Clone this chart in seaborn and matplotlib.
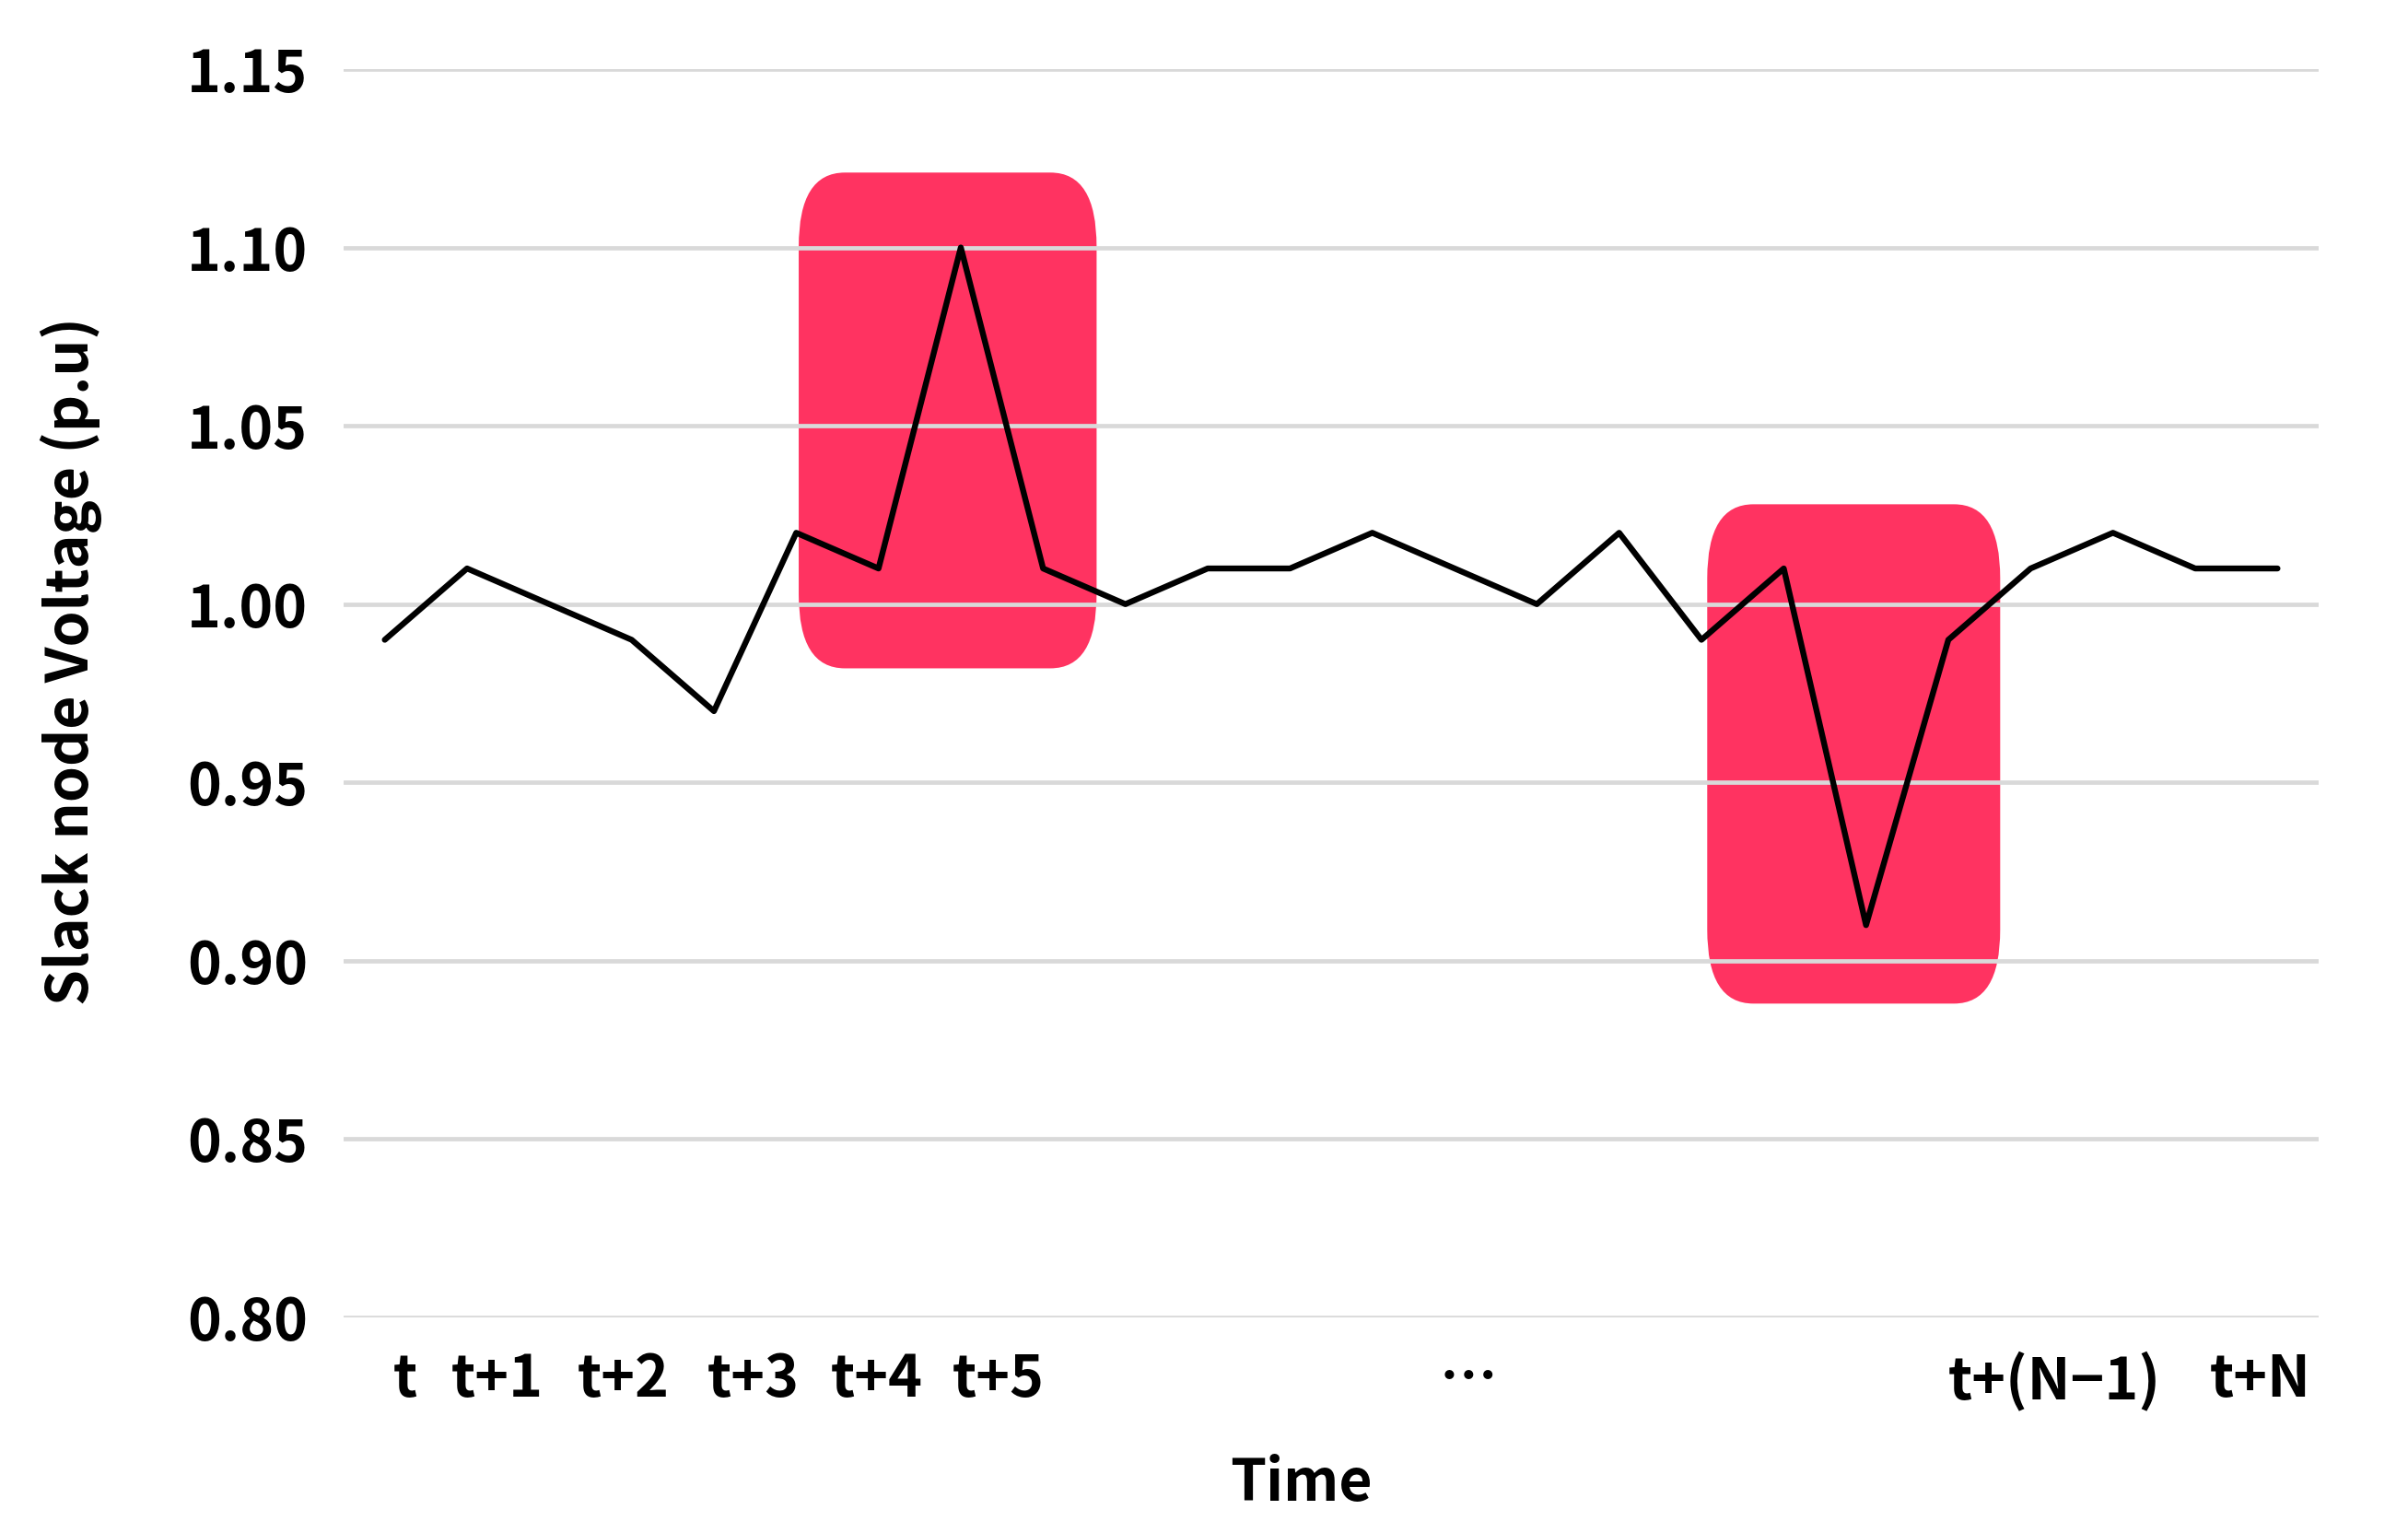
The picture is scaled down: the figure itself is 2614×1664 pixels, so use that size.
#!/usr/bin/env python3
# coding: utf-8
"""
Slack node voltage over time, with the two excursions highlighted
"""

import numpy as np
import pandas as pd
import seaborn as sns
import matplotlib
matplotlib.use("Agg")
import matplotlib.pyplot as plt
from matplotlib.patches import FancyBboxPatch

# ------------------------- 0. data --------------------------
STEP = list(range(24))
VOLTAGE = [0.99, 1.01, 1.00, 0.99, 0.97, 1.02, 1.01, 1.10, 1.01, 1.00, 1.01, 1.01,
           1.02, 1.01, 1.00, 1.02, 0.99, 1.01, 0.91, 0.99, 1.01, 1.02, 1.01, 1.01]

TICK_LABELS = ["t", "t+1", "t+2", "t+3", "t+4", "t+5", "\u2026", "t+(N\u22121)", "t+N"]
TICK_POS = [0.25, 1.37, 2.9, 4.48, 5.98, 7.46, 13.17, 20.29, 22.79]

Y_TICKS = [0.80, 0.85, 0.90, 0.95, 1.00, 1.05, 1.10, 1.15]

# highlighted regions: (x0, x1, y0, y1)
HIGHLIGHTS = [(5.03, 8.65, 0.982, 1.121), (16.07, 19.63, 0.888, 1.028)]
HL_COLOR = "#FF3361"

# ------------------------- 1. style -------------------------
sns.set_theme(style="white")
plt.rcParams["font.family"] = ["Noto Sans CJK KR", "DejaVu Sans"]
plt.rcParams["font.weight"] = "bold"
plt.rcParams["axes.unicode_minus"] = False

df = pd.DataFrame({"step": STEP, "voltage": VOLTAGE})

fig = plt.figure(figsize=(26.14, 16.64), dpi=100)
ax = fig.add_axes([0.1427, 0.1406, 0.9629 - 0.1427, 0.9549 - 0.1406])

# ------------------------- 2. draw --------------------------
for x0, x1, y0, y1 in HIGHLIGHTS:
    box = FancyBboxPatch((x0, y0), x1 - x0, y1 - y0,
                         boxstyle="round,pad=0,rounding_size=0.56",
                         mutation_aspect=0.037,
                         facecolor=HL_COLOR, edgecolor="none", zorder=1)
    ax.add_patch(box)

sns.lineplot(data=df, x="step", y="voltage", color="black", linewidth=4.6,
             ax=ax, zorder=3)

ax.set_xlim(-0.5, 23.5)
ax.set_ylim(0.80, 1.15)
ax.set_yticks(Y_TICKS)
ax.set_yticklabels([f"{v:.2f}" for v in Y_TICKS])
ax.set_xticks(TICK_POS)
ax.set_xticklabels(TICK_LABELS)

ax.set_axisbelow(False)
ax.yaxis.grid(True, color="#d9d9d9", linewidth=3.4, zorder=2)
ax.xaxis.grid(False)
for s in ax.spines.values():
    s.set_visible(False)

ax.tick_params(axis="both", length=0, labelsize=45, labelcolor="black")
ax.tick_params(axis="y", pad=28)
ax.tick_params(axis="x", pad=26)
for t in ax.get_xticklabels() + ax.get_yticklabels():
    t.set_fontweight("bold")

ax.set_xlabel("Time", fontsize=45, fontweight="bold", color="black")
ax.set_ylabel("Slack node Voltage (p.u)", fontsize=45, fontweight="bold", color="black")
ax.xaxis.set_label_coords(0.485, -0.110)
ax.yaxis.set_label_coords(-0.122, 0.526)

fig.savefig("out.png", dpi=100, facecolor="white")
